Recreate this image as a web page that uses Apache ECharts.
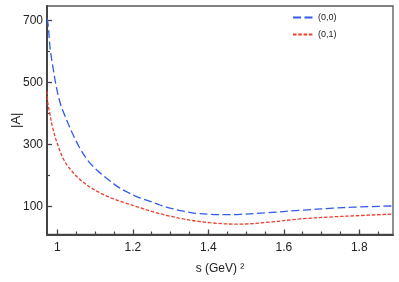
<!DOCTYPE html>
<html>
<head>
<meta charset="utf-8">
<script src="https://cdn.jsdelivr.net/npm/echarts@6/dist/echarts.min.js"></script>
<style>html,body{margin:0;padding:0;background:#fff}#c{width:399px;height:282px}</style>
</head>
<body>
<div id="c"></div>
<script>
// s values (GeV^2) and |A| values
var sBlue = [0.973,0.976,0.981,0.989,0.998,1.009,1.022,1.040,1.058,1.080,1.106,1.133,1.159,1.185,1.212,1.246,1.272,1.299,1.334,1.369,1.405,1.449,1.484,1.555,1.643,1.731,1.783,1.889];
var vBlue = [705,682,610,545,482,428,387,336,292,250,216,189,165,147,131,117,105,95,85,78,75,74,75,80,88,95,98,102];
var sRed = [0.973,0.975,0.981,0.987,1.000,1.018,1.040,1.062,1.089,1.115,1.142,1.177,1.212,1.246,1.272,1.299,1.334,1.369,1.405,1.449,1.484,1.555,1.643,1.731,1.783,1.889];
var vRed = [472,432,395,357,303,249,212,185,161,143,128,113,99,86,77,69,60,53,48,44,43.5,49,60,67,70,76];
var xMajorTicks = [1,1.2,1.4,1.6,1.8];
var xMinorTicks = [1.05,1.1,1.15,1.25,1.3,1.35,1.45,1.5,1.55,1.65,1.7,1.75,1.85];
var yMajorTicks = [100,300,500,700];
var yMinorTicks = [200,400,600];
var seriesNames = ['(0,0)','(0,1)'];

function pairs(xs, ys){ return xs.map(function(x,i){ return [x, ys[i]]; }); }

var font = 'Liberation Sans, Arial, Helvetica, sans-serif';
var axisCol = '#444';
var chart = echarts.init(document.getElementById('c'), null, {renderer:'canvas'});
chart.setOption({
  animation: false,
  backgroundColor: '#fff',
  grid: {left:47, right:6, top:6, bottom:47.5, show:true, borderColor:'#555', borderWidth:1.3,
    backgroundColor:'transparent', containLabel:false, outerBoundsMode:'none'},
  legend: {
    orient:'vertical', left:292, top:13, padding:0, itemWidth:20, itemHeight:8, itemGap:8,
    itemStyle:{opacity:0},
    textStyle:{fontFamily:font, fontSize:9, color:'#222'},
    data: seriesNames
  },
  xAxis: [{
    type:'value', min:0.9727, max:1.8893,
    name:'s (GeV) \u00B2', nameLocation:'middle', nameGap:28, nameMoveOverlap:false,
    nameTextStyle:{fontFamily:font, fontSize:12, color:'#222'},
    axisLine:{show:true, onZero:false, lineStyle:{color:axisCol, width:2}},
    axisTick:{show:true, inside:true, length:5, lineStyle:{color:axisCol, width:1.3}, customValues:xMajorTicks},
    axisLabel:{customValues:xMajorTicks, margin:7, fontFamily:font, fontSize:12, color:'#222',
      formatter:function(v){ return String(Math.round(v*10)/10); }},
    splitLine:{show:false}
  },{
    type:'value', min:0.9727, max:1.8893, position:'bottom',
    axisLine:{show:false},
    axisTick:{show:true, inside:true, length:3, lineStyle:{color:axisCol, width:1.2}, customValues:xMinorTicks},
    axisLabel:{show:false}, splitLine:{show:false}
  }],
  yAxis: [{
    type:'value', min:10, max:746,
    name:'|A|', nameLocation:'middle', nameGap:24, nameMoveOverlap:false,
    nameTextStyle:{fontFamily:font, fontSize:13, color:'#222'},
    axisLine:{show:true, onZero:false, lineStyle:{color:axisCol, width:2}},
    axisTick:{show:true, inside:true, length:5, lineStyle:{color:axisCol, width:1.3}, customValues:yMajorTicks},
    axisLabel:{customValues:yMajorTicks, margin:4, fontFamily:font, fontSize:12, color:'#222'},
    splitLine:{show:false}
  },{
    type:'value', min:10, max:746, position:'left',
    axisLine:{show:false},
    axisTick:{show:true, inside:true, length:3, lineStyle:{color:axisCol, width:1.2}, customValues:yMinorTicks},
    axisLabel:{show:false}, splitLine:{show:false}
  }],
  series: [{
    name:seriesNames[0], type:'line', smooth:0.35, symbol:'none', xAxisIndex:0, yAxisIndex:0,
    data: pairs(sBlue, vBlue),
    lineStyle:{color:'#2f5bea', width:1.3, type:[8,3.5]}, itemStyle:{color:'#2f5bea'}
  },{
    name:seriesNames[1], type:'line', smooth:0.35, symbol:'none', xAxisIndex:0, yAxisIndex:0,
    data: pairs(sRed, vRed),
    lineStyle:{color:'#f03c28', width:1.3, type:[3.5,1.8]}, itemStyle:{color:'#f03c28'}
  }]
});
</script>
</body>
</html>
